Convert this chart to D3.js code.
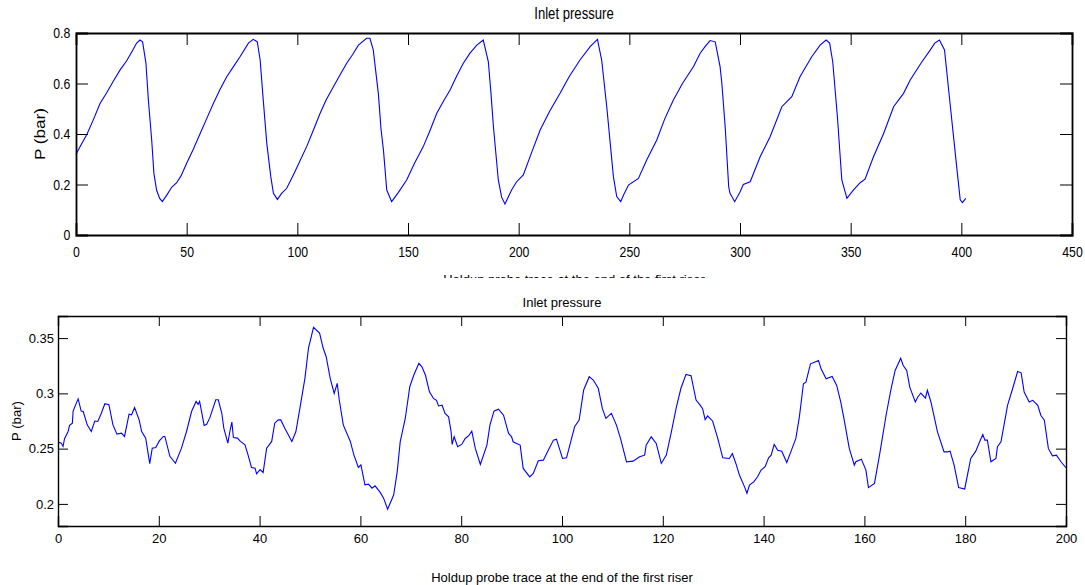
<!DOCTYPE html>
<html>
<head>
<meta charset="utf-8">
<script src="https://cdnjs.cloudflare.com/ajax/libs/d3/7.8.5/d3.min.js"></script>
<style>
  body { margin: 0; background: #fff; }
  svg { display: block; font-family: "Liberation Sans", Arial, sans-serif; }
</style>
</head>
<body>
<div id="visContainer"></div>
<script>
'use strict';

// top panel: inlet pressure, long record (x = time, y = bar)
var topX = [0,2.5,5,8,10.8,14,16.9,20,22.9,25.5,27.4,28.9,30.1,31.6,32.7,34.2,35.2,36.4,37.8,39,41,43.3,45.5,47.5,
  50,53,56,59,62,65,68.1,71,74.1,77.9,80.1,81.9,83.2,84.6,86.2,88,89.2,91,92.9,95.2,98.2,
  101,104.2,107,110.3,113,116.3,119,122.3,125,127.6,131.3,132.8,134.3,136.6,137.8,138.9,140.4,142.6,145.6,149.4,
  153,156.9,160,163,166,169,172,175,178,181.1,184,186.3,187.5,188.6,190.8,192.3,193.8,196.8,199,
  202.1,206,209.7,214,218.7,223,227.7,232.3,235.6,237.5,239.8,242.8,244.3,246.1,247.5,249.6,
  254.1,258,262.4,266,269.9,274,279,282,284.2,286.5,288.8,291,291.8,293.3,294.9,295.5,297.6,
  300,301.5,304.6,309.1,313.6,318.9,323.4,327.1,332.4,336.2,338.9,340.5,341.9,344,346,348.3,
  351.2,354.3,356.5,360.3,364.8,369.4,373.9,376.9,382.2,386,388,390.1,392.4,394.9,397.9,399.5,400.5,402];
var topP = [0.32,0.36,0.40,0.46,0.52,0.565,0.61,0.655,0.69,0.73,0.76,0.772,0.765,0.68,0.535,0.376,0.244,0.178,0.145,0.132,0.158,0.19,0.207,0.235,
  0.284,0.34,0.40,0.46,0.52,0.575,0.627,0.665,0.706,0.76,0.775,0.765,0.693,0.535,0.363,0.231,0.165,0.141,0.165,0.185,0.238,
  0.29,0.35,0.41,0.482,0.535,0.587,0.63,0.68,0.715,0.752,0.779,0.779,0.733,0.561,0.42,0.337,0.178,0.132,0.168,0.218,
  0.285,0.35,0.415,0.482,0.53,0.574,0.63,0.68,0.72,0.752,0.772,0.686,0.56,0.429,0.218,0.15,0.123,0.178,0.21,
  0.238,0.33,0.416,0.49,0.561,0.63,0.693,0.746,0.775,0.693,0.508,0.231,0.152,0.132,0.16,0.198,
  0.224,0.3,0.376,0.46,0.535,0.6,0.667,0.72,0.746,0.77,0.765,0.667,0.60,0.429,0.19,0.165,0.132,
  0.17,0.2,0.211,0.31,0.389,0.508,0.548,0.627,0.706,0.752,0.772,0.76,0.686,0.469,0.218,0.145,
  0.178,0.207,0.221,0.31,0.40,0.508,0.561,0.614,0.686,0.733,0.76,0.772,0.733,0.522,0.27,0.139,0.128,0.145];

// bottom panel: inlet pressure, 0-200
var botX = [0,0.66,1,1.3,2,2.3,2.85,3,3.8,4,4.6,5,5.8,6.6,7.3,7.9,8.6,9.3,10.1,10.9,11.7,12.6,13.2,14.1,14.6,15.2,16.1,16.6,17.4,18.2,18.7,19.4,
  20.1,20.9,21.2,22.2,23.3,24.5,25.5,26.5,27.4,27.8,28.1,29,29.5,30.1,31.3,31.8,32.5,32.9,33.7,34.1,34.5,34.8,35.6,36.2,37.1,37.7,38.4,39.1,39.4,
  40.1,40.7,41.4,42.4,43,43.7,44.2,45,46.4,47.2,48,49,49.7,50.7,51.9,52.6,53.2,54,54.8,55.4,55.8,56.6,58,58.7,59.6,
  60.1,60.9,61.6,62.3,62.9,63.9,64.6,65.4,66.6,67.3,67.9,68.9,69.8,70.6,71.6,72.2,72.9,73.7,74.5,75.1,75.5,76.2,76.8,77.5,78,78.2,78.6,79.3,
  80.1,80.8,81.5,82.1,82.8,83.8,85.1,85.7,86.5,87.4,88.4,89.4,90,90.3,91,91.7,92.3,93.6,94.3,95.3,96.3,97.3,98.3,98.9,
  100.1,100.9,102.5,103.4,104.3,105.4,106.2,107.2,108,108.7,109.3,109.8,110.8,111.6,112.8,114.1,115.4,116.4,116.7,117.7,118.7,119.7,
  120.7,121.7,122.7,123.6,124.6,125.6,126.6,127.4,127.9,128.4,128.9,129.9,130.9,131.9,133.2,133.8,134.5,135.2,136.2,136.7,137.2,138.1,138.8,139.5,
  140.3,141,141.5,142.1,142.8,143.6,144.6,145.4,146.4,147.1,147.9,148.4,149.3,150.1,150.9,151.4,152.4,153.6,154.5,155.3,156,157,158,158.3,159.4,
  160.3,160.8,162,163,164.3,165.3,166.1,167.2,167.7,168.4,169,170.1,170.6,171.2,172.1,172.5,173.2,174.5,175.8,176.5,177,177.8,178.7,179.9,
  181.1,182.1,182.8,183.5,183.9,184.4,185.1,186.1,186.4,187.1,188.4,189.4,190.4,191.1,191.7,192.7,193.4,194.4,195,195.7,196.5,197.3,198.1,199,200];
var botP = [0.2559,0.255,0.252,0.259,0.2655,0.271,0.273,0.284,0.293,0.295,0.284,0.2836,0.2715,0.2655,0.275,0.2746,0.282,0.2906,0.2897,0.2715,0.2631,0.264,0.261,0.2812,0.2806,0.2872,0.276,0.2655,0.2595,0.2365,0.2504,0.251,
  0.257,0.261,0.261,0.243,0.2368,0.2504,0.2655,0.2836,0.2927,0.29,0.2927,0.271,0.272,0.2776,0.2942,0.2942,0.282,0.2685,0.255,0.2655,0.274,0.26,0.2595,0.2565,0.2534,0.2444,0.233,0.2323,0.2272,
  0.231,0.2284,0.2504,0.2565,0.273,0.276,0.276,0.2685,0.2565,0.2655,0.2866,0.3138,0.341,0.3597,0.3545,0.341,0.3334,0.3138,0.3,0.309,0.2942,0.2715,0.2565,0.2444,0.233,
  0.2353,0.2172,0.2178,0.2142,0.2163,0.2106,0.2052,0.1952,0.208,0.229,0.2563,0.2773,0.306,0.3166,0.3272,0.324,0.3166,0.3014,0.2954,0.2937,0.2886,0.2893,0.2818,0.2788,0.2652,0.2538,0.2608,0.2517,
  0.2538,0.2592,0.2617,0.2658,0.2502,0.2357,0.2532,0.2713,0.2839,0.2857,0.2803,0.2637,0.2607,0.2562,0.2547,0.2532,0.2321,0.2245,0.2276,0.239,0.2396,0.2487,0.2577,0.2586,
  0.2411,0.2417,0.2698,0.2759,0.3031,0.3151,0.3121,0.3046,0.2864,0.2774,0.2798,0.2819,0.2713,0.2592,0.2381,0.2387,0.2426,0.2441,0.2532,0.2607,0.2547,0.2366,
  0.2441,0.2652,0.2878,0.3046,0.3172,0.316,0.294,0.2894,0.2862,0.2763,0.2796,0.2748,0.2592,0.2417,0.2411,0.2456,0.2366,0.2261,0.2156,0.2096,0.2171,0.2201,0.2246,0.2306,
  0.2336,0.2417,0.2441,0.2538,0.2486,0.2477,0.2375,0.2471,0.2592,0.2787,0.3087,0.3102,0.3267,0.3282,0.3297,0.3222,0.3132,0.3153,0.3072,0.2922,0.2757,0.2502,0.2351,0.2381,0.2405,
  0.2306,0.2147,0.2186,0.2441,0.2802,0.3042,0.3207,0.3318,0.3252,0.3207,0.3057,0.2922,0.2967,0.3003,0.2958,0.3027,0.2922,0.2652,0.2471,0.2471,0.2477,0.2351,0.2147,0.2135,
  0.2411,0.2477,0.2556,0.2628,0.2577,0.2577,0.2381,0.2411,0.2517,0.2562,0.2892,0.3042,0.3198,0.3186,0.3012,0.2922,0.2937,0.2892,0.2802,0.2757,0.2502,0.2435,0.2441,0.2381,0.2327];

var topXTicks = [0,50,100,150,200,250,300,350,400,450];
var topYTicks = [0,0.2,0.4,0.6,0.8];
var botXTicks = [0,20,40,60,80,100,120,140,160,180,200];
var botYTicks = [0.2,0.25,0.3,0.35];

var titleText = 'Inlet pressure';
var xLabelText = 'Holdup probe trace at the end of the first riser';
var yLabelText = 'P (bar)';

var width = 1085, height = 585;
var svg = d3.select('#visContainer').append('svg')
  .attr('width', width).attr('height', height);
svg.append('rect').attr('width', width).attr('height', height).attr('fill', '#fff');

function drawPanel(opt){
  var x = d3.scaleLinear().domain(opt.xDomain).range([opt.left, opt.right]);
  var y = d3.scaleLinear().domain(opt.yDomain).range([opt.bottom, opt.top]);
  var g = svg.append('g');

  // white backdrop (also hides the lower part of the label of the panel above)
  g.append('rect')
    .attr('x', 0).attr('y', opt.bgTop)
    .attr('width', width).attr('height', opt.bgBottom - opt.bgTop)
    .attr('fill', '#fff');

  var data = opt.xs.map(function(d, i){ return [d, opt.ys[i]]; });
  g.append('path')
    .datum(data)
    .attr('fill', 'none')
    .attr('stroke', '#0000ff')
    .attr('stroke-width', 1.1)
    .attr('d', d3.line().x(function(d){ return x(d[0]); }).y(function(d){ return y(d[1]); }));

  var fmt = function(d){ return String(+d.toFixed(2)); };
  var tl = opt.tick;
  var axB = g.append('g').attr('transform', 'translate(0,' + opt.bottom + ')')
    .call(d3.axisBottom(x).tickValues(opt.xTicks).tickFormat(fmt).tickSize(-tl).tickPadding(opt.xPad));
  var axT = g.append('g').attr('transform', 'translate(0,' + opt.top + ')')
    .call(d3.axisTop(x).tickValues(opt.xTicks).tickFormat('').tickSize(-tl));
  var axL = g.append('g').attr('transform', 'translate(' + opt.left + ',0)')
    .call(d3.axisLeft(y).tickValues(opt.yTicks).tickFormat(fmt).tickSize(-tl).tickPadding(opt.yPad));
  var axR = g.append('g').attr('transform', 'translate(' + opt.right + ',0)')
    .call(d3.axisRight(y).tickValues(opt.yTicks).tickFormat('').tickSize(-tl));

  [axB, axT, axL, axR].forEach(function(a){
    a.select('.domain').attr('stroke', '#000').attr('stroke-width', opt.boxW);
    a.selectAll('.tick line').attr('stroke', '#000').attr('stroke-width', 1);
    a.selectAll('text')
      .attr('fill', '#000')
      .style('font-family', '"Liberation Sans", Arial, sans-serif')
      .style('font-size', opt.font + 'px')
      .attr('transform', 'scale(' + opt.sx + ',1)');
  });

  g.append('text')
    .attr('x', (opt.left + opt.right) / 2 / opt.sx).attr('y', opt.titleY)
    .attr('transform', 'scale(' + opt.sx + ',1)')
    .attr('text-anchor', 'middle')
    .style('font-size', opt.titleFont + 'px')
    .text(titleText);

  g.append('text')
    .attr('transform', 'translate(' + opt.yLabX + ',' + (opt.top + opt.bottom) / 2 + ') rotate(-90)')
    .attr('text-anchor', 'middle')
    .attr('textLength', opt.yLabLen)
    .attr('lengthAdjust', 'spacingAndGlyphs')
    .style('font-size', opt.yLabFont + 'px')
    .text(yLabelText);

  g.append('text')
    .attr('x', (opt.left + opt.right) / 2).attr('y', opt.xLabY)
    .attr('text-anchor', 'middle')
    .style('font-size', '13px')
    .text(xLabelText);
}

drawPanel({
  xs: topX, ys: topP, xDomain: [0, 450], yDomain: [0, 0.8],
  xTicks: topXTicks, yTicks: topYTicks,
  left: 76, right: 1072, top: 33, bottom: 235,
  bgTop: 0, bgBottom: 278,
  tick: 12, boxW: 1.8, font: 15, sx: 0.82, xPad: 11, yPad: 7,
  titleY: 19.5, titleFont: 16,
  yLabX: 45, yLabLen: 52, yLabFont: 15,
  xLabY: 283.5
});

drawPanel({
  xs: botX, ys: botP, xDomain: [0, 200], yDomain: [0.18, 0.37],
  xTicks: botXTicks, yTicks: botYTicks,
  left: 58, right: 1066, top: 316, bottom: 526,
  bgTop: 278, bgBottom: 585,
  tick: 10, boxW: 1.4, font: 13, sx: 1, xPad: 8, yPad: 4,
  titleY: 307, titleFont: 13,
  yLabX: 21, yLabLen: 40, yLabFont: 12,
  xLabY: 581.5
});
</script>
</body>
</html>
